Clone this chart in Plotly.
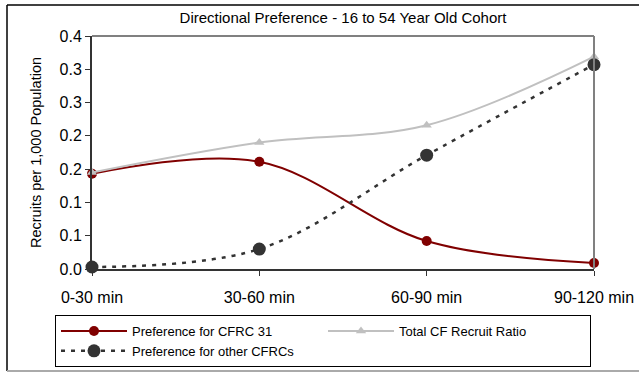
import plotly.graph_objects as go

categories = ["0-30 min", "30-60 min", "60-90 min", "90-120 min"]
pref_cfrc31 = [0.143, 0.161, 0.042, 0.009]
total_cf_ratio = [0.145, 0.190, 0.216, 0.319]
pref_other = [0.003, 0.030, 0.171, 0.307]
y_ticks = [0, 0.05, 0.1, 0.15, 0.2, 0.25, 0.3, 0.35]
y_tick_labels = ["0.0", "0.1", "0.1", "0.2", "0.2", "0.3", "0.3", "0.4"]

FONT = "Liberation Sans, Arial, sans-serif"
xs = list(range(len(categories)))

fig = go.Figure()
fig.add_trace(go.Scatter(
    x=xs, y=pref_cfrc31, name="Preference for CFRC 31", mode="lines+markers",
    line=dict(color="#800000", width=2, shape="spline", smoothing=1),
    marker=dict(symbol="circle", size=10, color="#800000"), cliponaxis=False))
fig.add_trace(go.Scatter(
    x=xs, y=total_cf_ratio, name="Total CF Recruit Ratio", mode="lines+markers",
    line=dict(color="#C0C0C0", width=2, shape="spline", smoothing=1),
    marker=dict(symbol="triangle-up", size=9, color="#C0C0C0"), cliponaxis=False))
fig.add_trace(go.Scatter(
    x=xs, y=pref_other, name="Preference for other CFRCs", mode="lines+markers",
    line=dict(color="#333333", width=2.5, dash="4px,6px", shape="spline", smoothing=1),
    marker=dict(symbol="circle", size=13, color="#333333"), cliponaxis=False))

fig.update_layout(
    width=639, height=372,
    margin=dict(l=92, r=45, t=36, b=103, pad=0, autoexpand=False),
    paper_bgcolor="white", plot_bgcolor="white",
    font=dict(family=FONT, color="black"),
    title=dict(text="Directional Preference - 16 to 54 Year Old Cohort",
               x=0.5, xref="paper", xanchor="center", y=1 - 18/372, yanchor="middle",
               font=dict(size=15, family=FONT, color="black")),
    showlegend=True,
    legend=dict(orientation="h", x=(55-92)/502, xanchor="left", y=(269-315)/233, yanchor="top",
                bordercolor="black", borderwidth=1, bgcolor="white",
                font=dict(size=13, family=FONT, color="black"),
                itemwidth=66, entrywidth=186, entrywidthmode="pixels", tracegroupgap=0,
                traceorder="normal"),
    shapes=[
        dict(type="line", xref="paper", yref="paper", x0=0, x1=1, y0=1, y1=1,
             line=dict(color="#808080", width=2)),
        dict(type="line", xref="paper", yref="paper", x0=1, x1=1, y0=0, y1=1,
             line=dict(color="#808080", width=2)),
        dict(type="line", xref="paper", yref="paper", x0=(7-92)/502, x1=(7-92)/502,
             y0=(269-371)/233, y1=(269-5)/233, line=dict(color="black", width=1.5)),
        dict(type="line", xref="paper", yref="paper", x0=(7-92)/502, x1=(650-92)/502,
             y0=(269-5)/233, y1=(269-5)/233, line=dict(color="black", width=1.5)),
        dict(type="line", xref="paper", yref="paper", x0=(7-92)/502, x1=(650-92)/502,
             y0=(269-371)/233, y1=(269-371)/233, line=dict(color="#AAAAAA", width=2)),
    ],
)

fig.update_xaxes(
    range=[0, 3], tickmode="array", tickvals=xs, ticktext=categories,
    showgrid=False, zeroline=False, showline=True, linecolor="#333333", linewidth=2,
    ticks="outside", ticklen=5, tickcolor="#333333", tickwidth=1,
    tickfont=dict(size=16, family=FONT, color="black"), ticklabelstandoff=8)
fig.update_yaxes(
    range=[0, 0.35], tickmode="array", tickvals=y_ticks, ticktext=y_tick_labels,
    showgrid=False, zeroline=False, showline=True, linecolor="#333333", linewidth=2,
    ticks="outside", ticklen=5, tickcolor="#333333", tickwidth=1,
    tickfont=dict(size=16, family=FONT, color="black"),
    title=dict(text="Recruits per 1,000 Population", font=dict(size=14.5, family=FONT, color="black"),
               standoff=14))

fig.write_html("out.html")
